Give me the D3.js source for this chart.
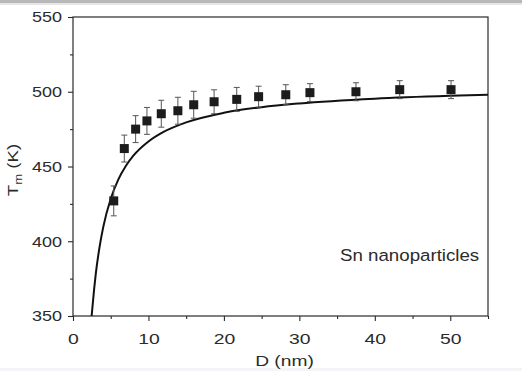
<!DOCTYPE html>
<html>
<head>
<meta charset="utf-8">
<script src="https://cdn.jsdelivr.net/npm/d3@7"></script>
<style>
  body { margin: 0; background: #fff; }
  svg { display: block; font-family: "Liberation Sans", Arial, sans-serif; }
</style>
</head>
<body>
<svg id="chart" width="522" height="371"></svg>
<script>
const svg = d3.select('#chart')
const textColor = '#2b2b2b'
const lineColor = '#2a2a2a'

// measured points (D in nm, Tm in K, error bar half width)
const sizes = [5.4, 6.8, 8.3, 9.8, 11.7, 13.9, 16.0, 18.7, 21.7, 24.6, 28.2, 31.4, 37.5, 43.3, 50.1]
const temps = [427, 462, 475, 480.5, 485.3, 487.3, 491.3, 493.3, 494.9, 496.7, 498.0, 499.4, 500.0, 501.4, 501.4]
const errs = [10, 9, 9, 9, 9, 9, 9, 8, 8, 7, 6.7, 6, 6, 6, 6]

// model curve
const curveD = [2.47, 2.8, 3, 3.5, 4, 5, 6, 7, 8, 10, 12, 15, 20, 25, 30, 40, 50, 55]
const curveT = [350, 368, 377.4, 395.6, 409.3, 428.4, 441.2, 450.3, 457.2, 466.7, 473.1, 479.5, 485.9, 489.7, 492.2, 495.4, 497.3, 498]

const xTicks = [0, 10, 20, 30, 40, 50]
const xMinor = [5, 15, 25, 35, 45, 55]
const yTicks = [350, 400, 450, 500, 550]
const yMinor = [375, 425, 475, 525]

const plotLeft = 73, plotRight = 488, plotTop = 17, plotBottom = 316

const xScale = d3.scaleLinear().domain([0, 55]).range([plotLeft, plotRight])
const yScale = d3.scaleLinear().domain([350, 550]).range([plotBottom, plotTop])

// window strips at top and bottom of the picture
svg.append('rect').attr('x', 0).attr('y', 0).attr('width', 522).attr('height', 3).attr('fill', '#b8b8b8')
svg.append('rect').attr('x', 0).attr('y', 3).attr('width', 522).attr('height', 2).attr('fill', '#e6e6e6')
svg.append('rect').attr('x', 0).attr('y', 368).attr('width', 522).attr('height', 3).attr('fill', '#f5f4f9')

// frame
svg.append('rect')
  .attr('x', plotLeft).attr('y', plotTop)
  .attr('width', plotRight - plotLeft).attr('height', plotBottom - plotTop)
  .attr('fill', 'none').attr('stroke', lineColor).attr('stroke-width', 1.2)

// x axis
const xAxis = svg.append('g')
  .attr('transform', `translate(0, ${plotBottom})`)
  .call(d3.axisBottom(xScale).tickValues(xTicks).tickSize(5).tickPadding(12))
svg.append('g')
  .attr('transform', `translate(0, ${plotBottom})`)
  .call(d3.axisBottom(xScale).tickValues(xMinor).tickSize(3).tickFormat(''))

// y axis
const yAxis = svg.append('g')
  .attr('transform', `translate(${plotLeft}, 0)`)
  .call(d3.axisLeft(yScale).tickValues(yTicks).tickSize(5).tickPadding(6))
svg.append('g')
  .attr('transform', `translate(${plotLeft}, 0)`)
  .call(d3.axisLeft(yScale).tickValues(yMinor).tickSize(3).tickFormat(''))

svg.selectAll('path.domain').style('stroke-width', 0)
svg.selectAll('.tick line').style('stroke', lineColor).style('stroke-width', 1.1)

// stretched tick labels like the scanned figure
xAxis.selectAll('.tick text')
  .style('font-size', '15.5px').style('fill', textColor)
  .attr('transform', 'scale(1.25,1)')
yAxis.selectAll('.tick text')
  .style('font-size', '15px').style('fill', textColor)
  .attr('x', 0)
  .attr('transform', 'translate(-11,0) scale(1.2,1)')

// curve
const line = d3.line()
  .x(d => xScale(d[0]))
  .y(d => yScale(d[1]))
  .curve(d3.curveMonotoneX)

svg.append('path')
  .datum(curveD.map((d, i) => [d, curveT[i]]))
  .attr('d', line)
  .attr('fill', 'none')
  .attr('stroke', '#111')
  .attr('stroke-width', 2)

// error bars
const pts = sizes.map((d, i) => ({ d: d, t: temps[i], e: errs[i] }))
const bars = svg.append('g').attr('stroke', '#555').attr('stroke-width', 1)
bars.selectAll('.stem').data(pts).enter().append('line')
  .attr('x1', p => xScale(p.d)).attr('x2', p => xScale(p.d))
  .attr('y1', p => yScale(p.t + p.e)).attr('y2', p => yScale(p.t - p.e))
bars.selectAll('.capT').data(pts).enter().append('line')
  .attr('x1', p => xScale(p.d) - 3).attr('x2', p => xScale(p.d) + 3)
  .attr('y1', p => yScale(p.t + p.e)).attr('y2', p => yScale(p.t + p.e))
bars.selectAll('.capB').data(pts).enter().append('line')
  .attr('x1', p => xScale(p.d) - 3).attr('x2', p => xScale(p.d) + 3)
  .attr('y1', p => yScale(p.t - p.e)).attr('y2', p => yScale(p.t - p.e))

// squares
const sq = 9
svg.selectAll('.pt').data(pts).enter().append('rect')
  .attr('x', p => xScale(p.d) - sq / 2)
  .attr('y', p => yScale(p.t) - sq / 2)
  .attr('width', sq).attr('height', sq)
  .attr('fill', '#1c1c1c')

// axis titles
svg.append('text')
  .attr('transform', `translate(${(plotLeft + plotRight) / 2 + 4}, 366) scale(1.24,1)`)
  .attr('text-anchor', 'middle')
  .style('font-size', '15.5px').style('fill', textColor)
  .text('D (nm)')

const yLab = svg.append('text')
  .attr('transform', `translate(18, 170) rotate(-90) scale(1.2,1)`)
  .attr('text-anchor', 'middle')
  .style('font-size', '15.5px').style('fill', textColor)
yLab.append('tspan').text('T')
yLab.append('tspan').attr('dy', 4).style('font-size', '11px').text('m')
yLab.append('tspan').attr('dy', -4).text(' (K)')

// annotation
svg.append('text')
  .attr('transform', 'translate(340, 261) scale(1.1,1)')
  .style('font-size', '17px').style('fill', textColor)
  .text('Sn nanoparticles')
</script>
</body>
</html>
